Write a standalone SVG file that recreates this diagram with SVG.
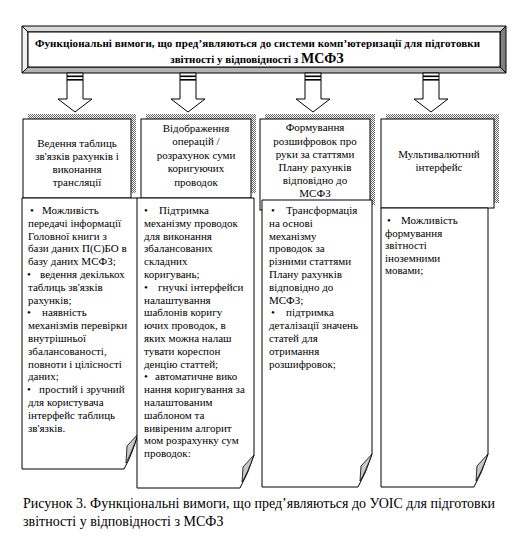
<svg xmlns="http://www.w3.org/2000/svg" width="518" height="548" viewBox="0 0 518 548">
<defs>
<pattern id="hatch" width="2" height="2" patternUnits="userSpaceOnUse">
<rect width="2" height="2" fill="#fff"/><rect width="1" height="1" fill="#666"/><rect x="1" y="1" width="1" height="1" fill="#666"/>
</pattern>
</defs>
<style>
.t{font-family:"Liberation Serif","Times New Roman",serif;font-size:11px;fill:#000}
.h{font-family:"Liberation Serif","Times New Roman",serif;font-size:11px;fill:#000;text-anchor:middle}
.b{font-family:"Liberation Serif","Times New Roman",serif;font-size:11px;font-weight:bold;fill:#000}
.box{fill:#fff;stroke:#000;stroke-width:1}
.sh{fill:url(#hatch);stroke:none}
.fold{fill:#c8c8c8;stroke:#000;stroke-width:0.8}
.arr{fill:#fff;stroke:#000;stroke-width:1}
.cap{font-family:"Liberation Serif","Times New Roman",serif;font-size:14px;fill:#000}
</style>
<rect width="518" height="548" fill="#fff"/>

<g id="banner">
<polygon points="22,26 506,26 500,32 28,32" fill="#d8d8d8" stroke="#000"/>
<polygon points="22,26 28,32 28,67 22,73" fill="#f2f2f2" stroke="#000"/>
<polygon points="506,26 506,73 500,67 500,32" fill="#808080" stroke="#000"/>
<polygon points="22,73 506,73 500,67 28,67" fill="#b4b4b4" stroke="#000"/>
<rect x="28" y="32" width="472" height="35" fill="#fff" stroke="#000"/>
<text class="b" x="35" y="47" textLength="445" lengthAdjust="spacing">Функціональні вимоги, що пред’являються до системи комп’ютеризації для підготовки</text>
<text class="b" x="257" y="63" text-anchor="middle">звітності у відповідності з <tspan font-size="14">МСФЗ</tspan></text>
</g>

<g id="connectors">
<g id="arrow1"><path class="arr" d="M67,73 V99 H58 L75,112 L92,99 H83 V73 Z"/><rect x="67" y="75.5" width="16" height="1.6"/><rect x="67" y="79" width="16" height="1.6"/></g>
<g id="arrow2"><path class="arr" d="M180,73 V99 H171 L188,112 L205,99 H196 V73 Z"/><rect x="180" y="75.5" width="16" height="1.6"/><rect x="180" y="79" width="16" height="1.6"/></g>
<g id="arrow3"><path class="arr" d="M305,73 V99 H296 L313,112 L330,99 H321 V73 Z"/><rect x="305" y="75.5" width="16" height="1.6"/><rect x="305" y="79" width="16" height="1.6"/></g>
<g id="arrow4"><path class="arr" d="M423,73 V99 H414 L431,112 L448,99 H439 V73 Z"/><rect x="423" y="75.5" width="16" height="1.6"/><rect x="423" y="79" width="16" height="1.6"/></g>
</g>

<g id="header1">
<rect class="sh" x="28" y="114" width="108" height="79"/>
<rect class="box" x="23" y="119" width="108" height="79"/>
<text class="h" x="77" y="147" font-size="12">Ведення таблиць</text>
<text class="h" x="77" y="160" font-size="12">зв'язків рахунків  і</text>
<text class="h" x="77" y="173" font-size="12">виконання</text>
<text class="h" x="77" y="186" font-size="12">трансляції</text>
</g>

<g id="header2">
<rect class="sh" x="146" y="114" width="110" height="79"/>
<rect class="box" x="141" y="119" width="110" height="79"/>
<text class="h" x="196" y="132">Відображення</text>
<text class="h" x="196" y="145">операцій  /</text>
<text class="h" x="196" y="158.5">розрахунок  суми</text>
<text class="h" x="196" y="172">коригуючих</text>
<text class="h" x="196" y="185.5">проводок</text>
</g>

<g id="header3">
<rect class="sh" x="265" y="114" width="110" height="91"/>
<rect class="box" x="260" y="119" width="110" height="91"/>
<text class="h" x="315" y="131">Формування</text>
<text class="h" x="315" y="144.5">розшифровок  про</text>
<text class="h" x="315" y="157.5">руки за статтями</text>
<text class="h" x="315" y="170.5">Плану рахунків</text>
<text class="h" x="315" y="184">відповідно  до</text>
<text class="h" x="315" y="197">МСФЗ</text>
</g>

<g id="header4">
<rect class="sh" x="386" y="114" width="113" height="89"/>
<rect class="box" x="381" y="119" width="113" height="89"/>
<text class="h" x="439" y="158">Мультивалютний</text>
<text class="h" x="439" y="171">інтерфейс</text>
</g>

<g id="list1">
<path class="box" d="M22,198 H138 V434 Q132,455 124,469 H22 Z"/>
<path class="fold" d="M138,434 L127,446 L126,463 Q132,452 138,434 Z"/>
<text class="t" x="30" y="214">•</text><text class="t" x="42" y="214">Можливість</text>
<text class="t" x="28" y="226.8">передачі інформації</text>
<text class="t" x="28" y="239.6">Головної книги з</text>
<text class="t" x="28" y="252.4">бази даних П(С)БО в</text>
<text class="t" x="28" y="265.2">базу даних МСФЗ;</text>
<text class="t" x="27" y="278">•</text><text class="t" x="40" y="278">ведення декількох</text>
<text class="t" x="28" y="290.8">таблиць зв'язків</text>
<text class="t" x="28" y="303.6">рахунків;</text>
<text class="t" x="27" y="316.4">•</text><text class="t" x="42" y="316.4">наявність</text>
<text class="t" x="28" y="329.2">механізмів перевірки</text>
<text class="t" x="28" y="342">внутрішньої</text>
<text class="t" x="28" y="354.8">збалансованості,</text>
<text class="t" x="28" y="367.6">повноти і цілісності</text>
<text class="t" x="28" y="380.4">даних;</text>
<text class="t" x="27" y="393.2">•</text><text class="t" x="39" y="393.2">простий і зручний</text>
<text class="t" x="28" y="406">для користувача</text>
<text class="t" x="28" y="418.8">інтерфейс таблиць</text>
<text class="t" x="28" y="431.6">зв'язків.</text>
</g>

<g id="list2">
<path class="box" d="M137,198 H254 V455 Q248,474 240,488 H137 Z"/>
<path class="fold" d="M254,455 L243,467 L242,482 Q248,472 254,455 Z"/>
<text class="t" x="144" y="214">•</text><text class="t" x="159" y="214">Підтримка</text>
<text class="t" x="144" y="226.8">механізму проводок</text>
<text class="t" x="144" y="239.6">для виконання</text>
<text class="t" x="144" y="252.4">збалансованих</text>
<text class="t" x="144" y="265.2">складних</text>
<text class="t" x="144" y="278">коригувань;</text>
<text class="t" x="144" y="290.8">•</text><text class="t" x="158" y="290.8">гнучкі інтерфейси</text>
<text class="t" x="144" y="303.6">налаштування</text>
<text class="t" x="144" y="316.4">шаблонів коригу</text>
<text class="t" x="144" y="329.2">ючих проводок, в</text>
<text class="t" x="144" y="342">яких можна налаш</text>
<text class="t" x="144" y="354.8">тувати кореспон</text>
<text class="t" x="144" y="367.6">денцію статтей;</text>
<text class="t" x="144" y="380.4">•</text><text class="t" x="155" y="380.4">автоматичне вико</text>
<text class="t" x="144" y="393.2">нання коригування за</text>
<text class="t" x="144" y="406">налаштованим</text>
<text class="t" x="144" y="418.8">шаблоном та</text>
<text class="t" x="144" y="431.6">вивіреним алгорит</text>
<text class="t" x="144" y="444.4">мом розрахунку сум</text>
<text class="t" x="144" y="457.2">проводок:</text>
</g>

<g id="list3">
<path class="box" d="M262,200 H372 V454 Q366,473 358,487 H262 Z"/>
<path class="fold" d="M372,454 L361,466 L360,481 Q366,471 372,454 Z"/>
<text class="t" x="271" y="214">•</text><text class="t" x="286" y="214">Трансформація</text>
<text class="t" x="269" y="226.8">на основі</text>
<text class="t" x="269" y="239.6">механізму</text>
<text class="t" x="269" y="252.4">проводок за</text>
<text class="t" x="269" y="265.2">різними  статтями</text>
<text class="t" x="269" y="278">Плану рахунків</text>
<text class="t" x="269" y="290.8">відповідно  до</text>
<text class="t" x="269" y="303.6">МСФЗ;</text>
<text class="t" x="271" y="316.4">•</text><text class="t" x="286" y="316.4">підтримка</text>
<text class="t" x="269" y="329.2">деталізації значень</text>
<text class="t" x="269" y="342">статей для</text>
<text class="t" x="269" y="354.8">отримання</text>
<text class="t" x="269" y="367.6">розшифровок;</text>
</g>

<g id="list4">
<path class="box" d="M381,208 H488 V454 Q482,473 474,487 H381 Z"/>
<path class="fold" d="M488,454 L477,466 L476,481 Q482,471 488,454 Z"/>
<text class="t" x="387" y="224">•</text><text class="t" x="401" y="224">Можливість</text>
<text class="t" x="385" y="236.6">формування</text>
<text class="t" x="385" y="249.2">звітності</text>
<text class="t" x="385" y="261.8">іноземними</text>
<text class="t" x="385" y="274.4">мовами;</text>
</g>

<g id="caption">
<text class="cap" x="23" y="508">Рисунок 3. Функціональні вимоги, що пред’являються до УОІС для підготовки</text>
<text class="cap" x="23" y="526">звітності у відповідності з МСФЗ</text>
</g>
</svg>
